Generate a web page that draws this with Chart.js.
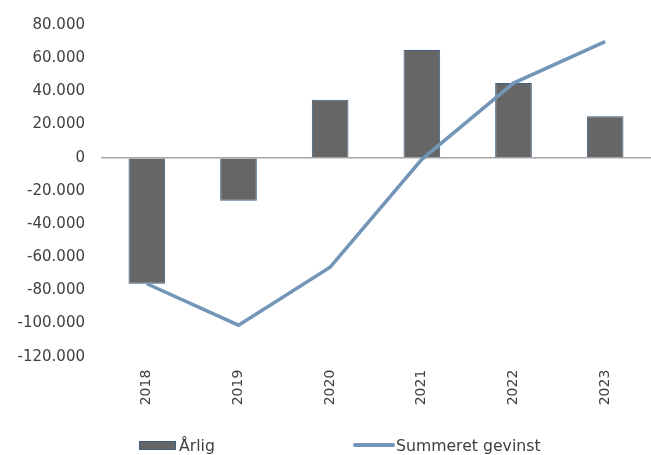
<!DOCTYPE html>
<html>
<head>
<meta charset="utf-8">
<script src="https://cdn.jsdelivr.net/npm/chart.js@4"></script>
<style>
  html, body { margin: 0; padding: 0; background: #ffffff; overflow: hidden; }
  #wrap { position: relative; width: 651px; height: 455px; }
  #legend { position: absolute; left: 0; top: 435px; width: 651px; height: 20px;
            font-family: "DejaVu Sans", sans-serif; font-size: 15.7px; color: #404040; }
  .item { position: absolute; top: 0; height: 20px; display: flex; align-items: center; white-space: nowrap; }
  .swatch { display: inline-block; margin-right: 3px; box-sizing: border-box; }
</style>
</head>
<body>
<div id="wrap">
  <canvas id="c" width="651" height="455"></canvas>
  <div id="legend"></div>
</div>
<script>
const categories = ['2018', '2019', '2020', '2021', '2022', '2023'];
const annualLabel = 'Årlig';
const annualValues = [-76000, -26000, 35000, 65000, 45000, 25000];
const cumulativeLabel = 'Summeret gevinst';
const cumulativeValues = [-76000, -101000, -66000, -1000, 45000, 70000];
const yMin = -120000;
const yMax = 80000;
const yStep = 20000;

function fmt(v) {
  const s = String(Math.abs(v)).replace(/\B(?=(\d{3})+(?!\d))/g, '.');
  return (v < 0 ? '-' : '') + s;
}

const BAR_FILL = '#666666';
const BAR_BORDER = '#3f5f80';
const LINE_COLOR = '#7396b8';
const TEXT = '#404040';
const FONT = '"DejaVu Sans", sans-serif';

const chart = new Chart(document.getElementById('c'), {
  data: {
    labels: categories,
    datasets: [
      {
        type: 'line',
        label: cumulativeLabel,
        data: cumulativeValues,
        borderColor: LINE_COLOR,
        backgroundColor: LINE_COLOR,
        borderWidth: 3.5,
        pointRadius: 0,
        tension: 0,
        order: 0
      },
      {
        type: 'bar',
        label: annualLabel,
        data: annualValues,
        backgroundColor: BAR_FILL,
        borderColor: BAR_BORDER,
        borderWidth: 1,
        barPercentage: 0.4,
        categoryPercentage: 1,
        order: 1
      }
    ]
  },
  options: {
    responsive: false,
    animation: false,
    devicePixelRatio: 1,
    layout: { padding: { top: 24.7, left: 0, right: 0, bottom: 49 } },
    plugins: { legend: { display: false }, tooltip: { enabled: false } },
    scales: {
      x: {
        offset: true,
        afterFit: (s) => { s.height = 49.3; },
        grid: { display: false, drawTicks: false },
        border: { display: false },
        ticks: {
          minRotation: 90, maxRotation: 90, padding: 13,
          color: TEXT, font: { family: FONT, size: 14 }
        }
      },
      y: {
        min: yMin, max: yMax,
        afterFit: (s) => { s.width = 101; },
        grid: {
          drawTicks: false,
          color: (ctx) => (ctx.tick && ctx.tick.value === 0 ? '#a6a6a6' : 'rgba(0,0,0,0)'),
          lineWidth: 1.5
        },
        border: { display: false },
        ticks: {
          stepSize: yStep, padding: 16,
          color: TEXT, font: { family: FONT, size: 15 },
          callback: (v) => fmt(v)
        }
      }
    }
  }
});

// HTML legend built from the chart's datasets
const legend = document.getElementById('legend');
const positions = { 'Årlig': 139, 'Summeret gevinst': 353 };
[chart.data.datasets[1], chart.data.datasets[0]].forEach((ds) => {
  const item = document.createElement('div');
  item.className = 'item';
  item.style.left = positions[ds.label] + 'px';
  const sw = document.createElement('span');
  sw.className = 'swatch';
  if (ds.type === 'bar') {
    sw.style.width = '37px'; sw.style.height = '9px';
    sw.style.background = ds.backgroundColor;
    sw.style.border = '1px solid ' + ds.borderColor;
  } else {
    sw.style.width = '42px'; sw.style.height = '3.5px';
    sw.style.background = ds.borderColor;
    sw.style.borderRadius = '2px';
    sw.style.marginRight = '1px';
  }
  const tx = document.createElement('span');
  tx.textContent = ds.label;
  item.appendChild(sw);
  item.appendChild(tx);
  legend.appendChild(item);
});
</script>
</body>
</html>
